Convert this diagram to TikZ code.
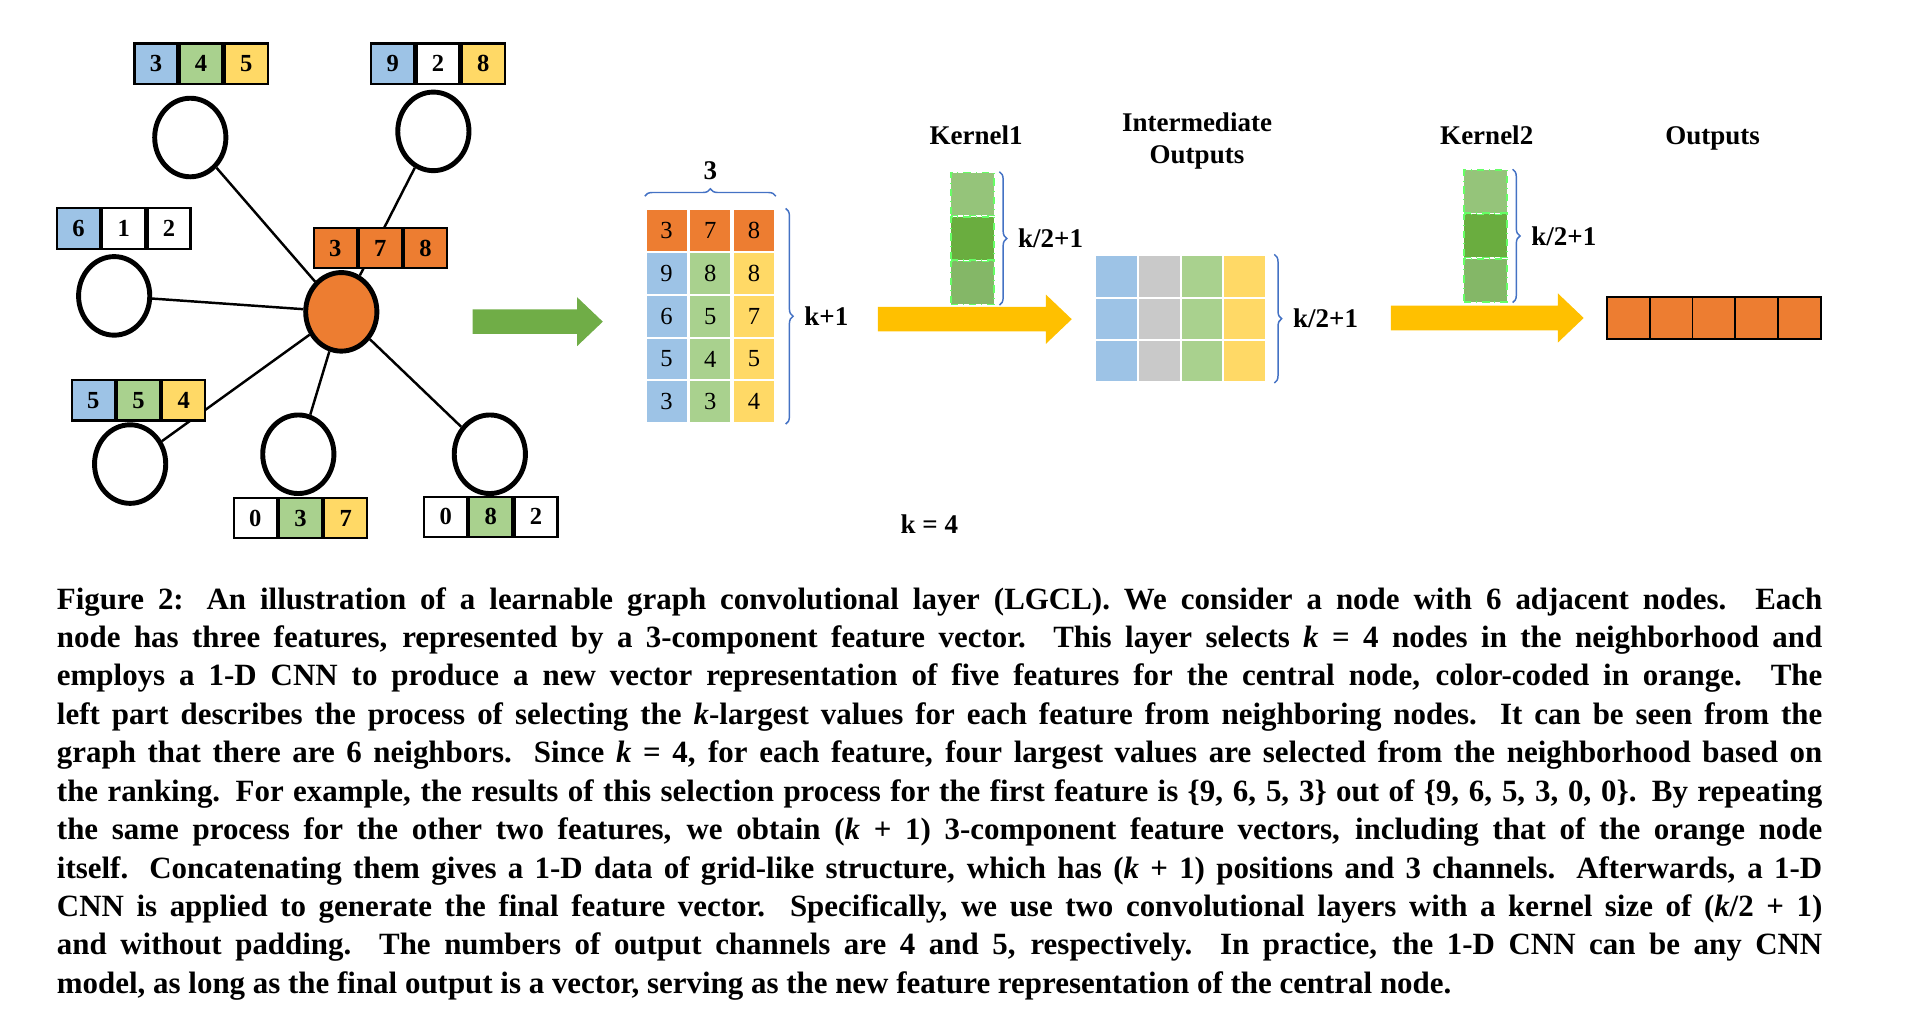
\documentclass[tikz,border=0pt]{standalone}
\usepackage{fontspec}
\setmainfont{Liberation Serif}
\usetikzlibrary{decorations.pathreplacing,shapes.geometric}
\definecolor{cb}{HTML}{9DC3E6}
\definecolor{cg}{HTML}{A9D18E}
\definecolor{cy}{HTML}{FFD966}
\definecolor{co}{HTML}{ED7D31}
\definecolor{cgr}{HTML}{C9C9C9}
\definecolor{cbr}{HTML}{4472C4}
\definecolor{ya}{HTML}{FFC000}
\definecolor{ga}{HTML}{70AD47}
\definecolor{k1}{HTML}{95C47A}
\definecolor{k2}{HTML}{6AAD3F}
\definecolor{k3}{HTML}{84B767}
\tikzset{
 cell/.style={draw=black,line width=0.9pt,minimum width=17.5pt,minimum height=16.5pt,inner sep=0pt,font=\fontsize{10}{10}\selectfont\bfseries},
 mcell/.style={draw=white,line width=0.8pt,minimum width=17pt,minimum height=17.4pt,inner sep=0pt,font=\fontsize{10}{10}\selectfont},
 icell/.style={draw=white,line width=0.8pt,minimum width=17.4pt,minimum height=17.2pt,inner sep=0pt},
 kcell/.style={draw=green!60!white,dash dot,line width=0.6pt,minimum width=17.5pt,minimum height=17.5pt,inner sep=0pt},
 ocell/.style={draw=black,line width=0.8pt,fill=co,minimum width=17.4pt,minimum height=17pt,inner sep=0pt},
 gnode/.style={draw=black,ellipse,line width=2pt,minimum width=29pt,minimum height=32pt,inner sep=0pt},
 edge/.style={line width=1pt},
 lbl/.style={font=\fontsize{11}{13}\selectfont\bfseries,align=center},
 br/.style={draw=cbr,line width=0.6pt,decorate,decoration={brace,amplitude=3pt}},
}
\newcommand{\fvec}[9]{%
 \node[cell,fill=#4] (#1-1) at (#2,#3) {#7};
 \node[cell,fill=#5,anchor=west] (#1-2) at (#1-1.east) {#8};
 \node[cell,fill=#6,anchor=west] (#1-3) at (#1-2.east) {#9};}
\begin{document}
\begin{tikzpicture}[x=0.5pt,y=-0.5pt]
\useasboundingbox (0,0) rectangle (1568,832);
% graph
\node[gnode] (n1) at (155,112) {};
\node[gnode] (n2) at (353,107) {};
\node[gnode] (n3) at (93,241) {};
\node[gnode,fill=co] (c) at (278,254) {};
\node[gnode] (n5) at (106,378) {};
\node[gnode] (n6) at (243,370) {};
\node[gnode] (n7) at (399,370) {};
\foreach \n in {n1,n2,n3,n5,n6,n7} \draw[edge] (c) -- (\n);
\fvec{v1}{127}{52}{cb}{cg}{cy}{3}{4}{5}
\fvec{v2}{320}{52}{cb}{white}{cy}{9}{2}{8}
\fvec{v3}{64}{186}{cb}{white}{white}{6}{1}{2}
\fvec{v4}{273}{202}{co}{co}{co}{3}{7}{8}
\fvec{v5}{76}{326}{cb}{cg}{cy}{5}{5}{4}
\fvec{v6}{208}{422}{white}{cg}{cy}{0}{3}{7}
\fvec{v7}{363}{421}{white}{cg}{white}{0}{8}{2}
% green arrow
\coordinate (ga0) at (385,262);
\fill[ga] (385,252) -- (470,252) -- (470,242) -- (491,262) -- (470,282) -- (470,272) -- (385,272) -- cycle;
% matrix
\foreach \r/\a/\b/\c [count=\i] in {0/3/7/8,1/9/8/8,2/6/5/7,3/5/4/5,4/3/3/4}{
 \ifnum\r=0
  \node[mcell,fill=co] (m\i1) at (543,188) {\a};
 \else
  \node[mcell,fill=cb] (m\i1) at (543,{188+34.8*\r}) {\a};
 \fi
}
\foreach \r/\a/\b/\c [count=\i] in {0/3/7/8,1/9/8/8,2/6/5/7,3/5/4/5,4/3/3/4}{
 \ifnum\r=0
  \node[mcell,fill=co,anchor=west] (m\i2) at (m\i1.east) {\b};
  \node[mcell,fill=co,anchor=west] (m\i3) at (m\i2.east) {\c};
 \else
  \node[mcell,fill=cg,anchor=west] (m\i2) at (m\i1.east) {\b};
  \node[mcell,fill=cy,anchor=west] (m\i3) at (m\i2.east) {\c};
 \fi
}
\draw[br] ([yshift=5pt]m11.north west) -- ([yshift=5pt]m13.north east) node[midway,above=3pt,lbl] (l3) {3};
\draw[br] ([xshift=4pt]m13.north east) -- ([xshift=4pt]m53.south east) node[midway,right=4pt,lbl] (lk1) {k+1};
% yellow arrow 1
\fill[ya] (715,250) -- (852,250) -- (852,240) -- (873,260) -- (852,280) -- (852,270) -- (715,270) -- cycle;
% kernel1
\node[kcell,fill=k1] (ka1) at (792,158) {};
\node[kcell,fill=k2,anchor=north] (ka2) at (ka1.south) {};
\node[kcell,fill=k3,anchor=north] (ka3) at (ka2.south) {};
\draw[br] ([xshift=2pt]ka1.north east) -- ([xshift=2pt]ka3.south east) node[midway,right=4pt,lbl] (lka) {k/2+1};
\node[lbl] (tk1) at (795,110) {Kernel1};
\node[lbl] (tio) at (975,115) {Intermediate\\Outputs};
\node[lbl] (tk2) at (1211,110) {Kernel2};
\node[lbl] (tout) at (1395,113) {Outputs};
% intermediate
\foreach \j/\col in {1/cb,2/cgr,3/cg,4/cy}{
 \foreach \i in {1,2,3}{
  \node[icell,fill=\col] (i\i\j) at ({892+17.4+34.8*(\j-1)},{208+17.2+34.4*(\i-1)}) {};
 }}
\draw[br] ([xshift=3pt]i14.north east) -- ([xshift=3pt]i34.south east) node[midway,right=4pt,lbl] (lki) {k/2+1};
% yellow arrow 2
\fill[ya] (1133,249) -- (1269,249) -- (1269,239) -- (1290,259) -- (1269,279) -- (1269,269) -- (1133,269) -- cycle;
% kernel2
\node[kcell,fill=k1] (kb1) at (1210,156) {};
\node[kcell,fill=k2,anchor=north] (kb2) at (kb1.south) {};
\node[kcell,fill=k3,anchor=north] (kb3) at (kb2.south) {};
\draw[br] ([xshift=2pt]kb1.north east) -- ([xshift=2pt]kb3.south east) node[midway,right=4pt,lbl] (lkb) {k/2+1};
% outputs
\foreach \j in {1,...,5}{
 \node[ocell] (o\j) at ({1309+17.4+34.8*(\j-1)},259) {};
}
\node[lbl] (k4) at (757,427) {k = 4};
% caption
\node[anchor=north west,inner sep=0pt,text width=719pt,align=justify,font=\fontsize{12.6}{15.65}\selectfont\bfseries] (cap) at (46,478) {Figure 2: An illustration of a learnable graph convolutional layer (LGCL). We consider a node with 6 adjacent nodes. Each\linebreak
node has three features, represented by a 3-component feature vector. This layer selects \textit{k} = 4 nodes in the neighborhood and\linebreak
employs a 1-D CNN to produce a new vector representation of five features for the central node, color-coded in orange. The\linebreak
left part describes the process of selecting the \textit{k}-largest values for each feature from neighboring nodes. It can be seen from the\linebreak
graph that there are 6 neighbors. Since \textit{k} = 4, for each feature, four largest values are selected from the neighborhood based on\linebreak
the ranking. For example, the results of this selection process for the first feature is \{9, 6, 5, 3\} out of \{9, 6, 5, 3, 0, 0\}. By repeating\linebreak
the same process for the other two features, we obtain (\textit{k} + 1) 3-component feature vectors, including that of the orange node\linebreak
itself. Concatenating them gives a 1-D data of grid-like structure, which has (\textit{k} + 1) positions and 3 channels. Afterwards, a 1-D\linebreak
CNN is applied to generate the final feature vector. Specifically, we use two convolutional layers with a kernel size of (\textit{k}/2 + 1)\linebreak
and without padding. The numbers of output channels are 4 and 5, respectively. In practice, the 1-D CNN can be any CNN\linebreak
model, as long as the final output is a vector, serving as the new feature representation of the central node.};
\end{tikzpicture}
\end{document}
